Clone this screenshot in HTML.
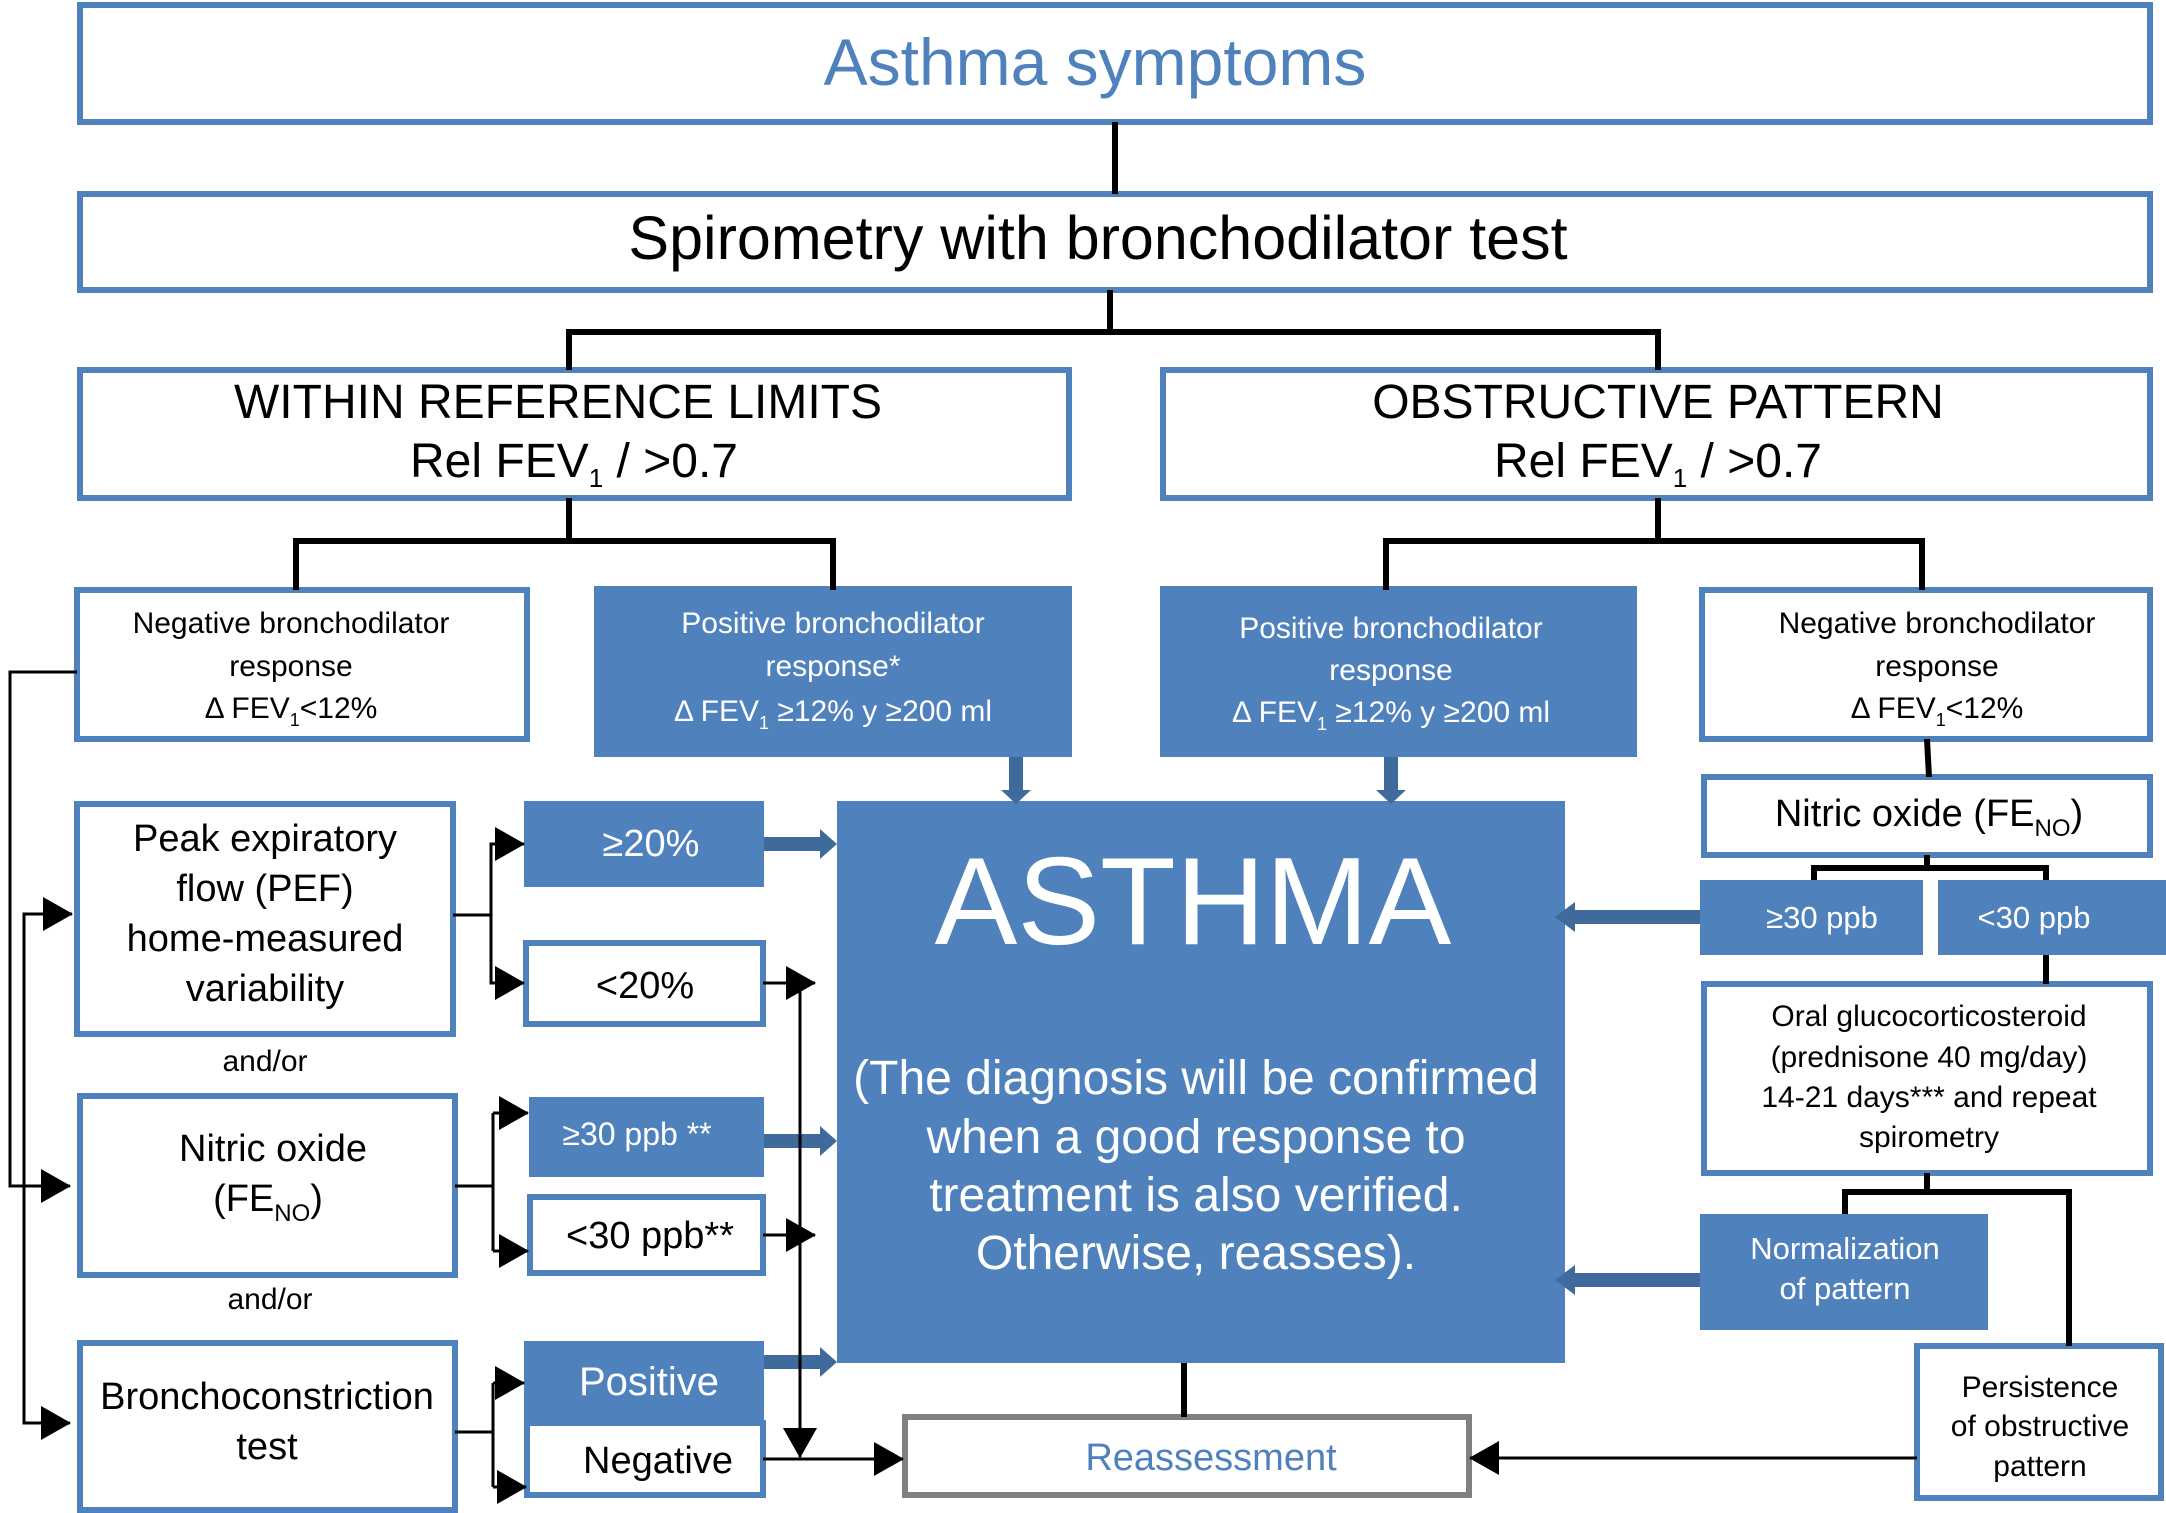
<!DOCTYPE html>
<html><head><meta charset="utf-8"><style>
html,body{margin:0;padding:0;background:#fff}
svg{display:block}
text{font-family:"Liberation Sans",Arial,sans-serif}
</style></head><body>
<svg width="2166" height="1513" viewBox="0 0 2166 1513" xmlns="http://www.w3.org/2000/svg">
<defs>
<marker id="ahb" markerWidth="30" markerHeight="34" refX="29" refY="17" orient="auto" markerUnits="userSpaceOnUse" viewBox="0 0 30 34">
<path d="M0,0 L30,17 L0,34 z" fill="#000"/></marker>
</defs>
<g fill="none" stroke="#4f81bd" stroke-width="6">
<rect x="80" y="5" width="2070" height="117"/>
<rect x="80" y="194" width="2070" height="96"/>
<rect x="80" y="370" width="989" height="128"/>
<rect x="1163" y="370" width="987" height="128"/>
<rect x="77" y="590" width="450" height="149"/>
<rect x="1702" y="590" width="448" height="149"/>
<rect x="1704" y="777" width="446" height="78"/>
<rect x="1704" y="984" width="446" height="189"/>
<rect x="1917" y="1346" width="244" height="152"/>
<rect x="77" y="804" width="376" height="230"/>
<rect x="80" y="1096" width="375" height="179"/>
<rect x="80" y="1343" width="375" height="167"/>
<rect x="526" y="943" width="237" height="81"/>
<rect x="530" y="1197" width="233" height="76"/>
<rect x="527" y="1423" width="236" height="72"/>
</g>
<rect x="905" y="1417" width="564" height="78" fill="none" stroke="#808080" stroke-width="6"/>
<g fill="#4f81bd">
<rect x="594" y="586" width="478" height="171"/>
<rect x="1160" y="586" width="477" height="171"/>
<rect x="837" y="801" width="728" height="562"/>
<rect x="1700" y="880" width="223" height="75"/>
<rect x="1938" y="880" width="228" height="75"/>
<rect x="1700" y="1214" width="288" height="116"/>
<rect x="524" y="801" width="240" height="86"/>
<rect x="529" y="1097" width="235" height="80"/>
<rect x="524" y="1341" width="240" height="82"/>
</g>
<g fill="#3f6a9c">
<polygon points="1009,757 1023,757 1023,790 1031,790 1016,804 1001,790 1009,790"/>
<polygon points="1384,757 1398,757 1398,790 1406,790 1391,804 1376,790 1384,790"/>
<polygon points="1700,910 1575,910 1575,902 1555,917 1575,932 1575,924 1700,924"/>
<polygon points="1700,1273 1575,1273 1575,1265 1555,1280 1575,1295 1575,1287 1700,1287"/>
<polygon points="764,837 820,837 820,829 837,844 820,859 820,851 764,851"/>
<polygon points="764,1134 820,1134 820,1126 837,1141 820,1156 820,1148 764,1148"/>
<polygon points="764,1355 820,1355 820,1347 837,1362 820,1377 820,1369 764,1369"/>
</g>
<g fill="none" stroke="#000" stroke-width="6">
<line x1="1115" y1="122" x2="1115" y2="194"/>
<polyline points="1110,290 1110,332 569,332 569,370"/>
<polyline points="1110,332 1658,332 1658,370"/>
<polyline points="569,498 569,541 296,541 296,590"/>
<polyline points="569,541 833,541 833,590"/>
<polyline points="1658,498 1658,541 1386,541 1386,590"/>
<polyline points="1658,541 1922,541 1922,590"/>
<line x1="1927" y1="739" x2="1929" y2="777"/>
<polyline points="1927,855 1927,868 1814,868 1814,880"/>
<polyline points="1927,868 2046,868 2046,880"/>
<line x1="2046" y1="955" x2="2046" y2="984"/>
<polyline points="1927,1173 1927,1192 1845,1192 1845,1214"/>
<polyline points="1927,1192 2069,1192 2069,1346"/>
<line x1="1184" y1="1363" x2="1184" y2="1417"/>
</g>
<g fill="none" stroke="#000" stroke-width="3">
<polyline points="77,672 10,672 10,1186 70,1186" marker-end="url(#ahb)"/>
<polyline points="70,914 24,914 24,1423 70,1423" marker-end="url(#ahb)"/>
<line x1="24" y1="914" x2="72" y2="914" marker-end="url(#ahb)"/>
<polyline points="453,915 491,915"/>
<polyline points="520,844 491,844 491,983 520,983"/>
<line x1="491" y1="844" x2="524" y2="844" marker-end="url(#ahb)"/>
<line x1="491" y1="983" x2="524" y2="983" marker-end="url(#ahb)"/>
<polyline points="455,1186 493,1186"/>
<polyline points="493,1113 493,1251"/>
<line x1="493" y1="1113" x2="528" y2="1113" marker-end="url(#ahb)"/>
<line x1="493" y1="1251" x2="528" y2="1251" marker-end="url(#ahb)"/>
<polyline points="455,1432 493,1432"/>
<polyline points="493,1383 493,1487"/>
<line x1="493" y1="1383" x2="524" y2="1383" marker-end="url(#ahb)"/>
<line x1="493" y1="1487" x2="526" y2="1487" marker-end="url(#ahb)"/>
<line x1="763" y1="983" x2="815" y2="983" marker-end="url(#ahb)"/>
<line x1="763" y1="1235" x2="815" y2="1235" marker-end="url(#ahb)"/>
<line x1="800" y1="976" x2="800" y2="1457" marker-end="url(#ahb)"/>
<line x1="763" y1="1459" x2="903" y2="1459" marker-end="url(#ahb)"/>
<line x1="1917" y1="1458" x2="1470" y2="1458" marker-end="url(#ahb)"/>
</g>
<g text-anchor="middle" font-size="30" fill="#000">
<text x="1095" y="85" font-size="66" fill="#4f81bd">Asthma symptoms</text>
<text x="1098" y="259" font-size="61">Spirometry with bronchodilator test</text>
<text x="558" y="418" font-size="48">WITHIN REFERENCE LIMITS</text>
<text x="574" y="477" font-size="48">Rel FEV<tspan font-size="26" dy="10">1</tspan><tspan dy="-10"> / &gt;0.7</tspan></text>
<text x="1658" y="418" font-size="48">OBSTRUCTIVE PATTERN</text>
<text x="1658" y="477" font-size="48">Rel FEV<tspan font-size="26" dy="10">1</tspan><tspan dy="-10"> / &gt;0.7</tspan></text>
<text x="291" y="633">Negative bronchodilator</text>
<text x="291" y="676">response</text>
<text x="291" y="718">Δ FEV<tspan font-size="18" dy="8">1</tspan><tspan dy="-8">&lt;12%</tspan></text>
<text x="1937" y="633">Negative bronchodilator</text>
<text x="1937" y="676">response</text>
<text x="1937" y="718">Δ FEV<tspan font-size="18" dy="8">1</tspan><tspan dy="-8">&lt;12%</tspan></text>
<g fill="#fff">
<text x="833" y="633">Positive bronchodilator</text>
<text x="833" y="676">response*</text>
<text x="833" y="721">Δ FEV<tspan font-size="18" dy="8">1</tspan><tspan dy="-8"> ≥12% y ≥200 ml</tspan></text>
<text x="1391" y="638">Positive bronchodilator</text>
<text x="1391" y="680">response</text>
<text x="1391" y="722">Δ FEV<tspan font-size="18" dy="8">1</tspan><tspan dy="-8"> ≥12% y ≥200 ml</tspan></text>
<text x="1193" y="944" font-size="124">ASTHMA</text>
<text x="1196" y="1094" font-size="48">(The diagnosis will be confirmed</text>
<text x="1196" y="1153" font-size="48">when a good response to</text>
<text x="1196" y="1211" font-size="48">treatment is also verified.</text>
<text x="1196" y="1269" font-size="48">Otherwise, reasses).</text>
<text x="1822" y="928" font-size="31">≥30 ppb</text>
<text x="2034" y="928" font-size="31">&lt;30 ppb</text>
<text x="1845" y="1259" font-size="31">Normalization</text>
<text x="1845" y="1299" font-size="31">of pattern</text>
<text x="651" y="856" font-size="38">≥20%</text>
<text x="637" y="1145" font-size="32">≥30 ppb **</text>
<text x="649" y="1395" font-size="40">Positive</text>
</g>
<text x="1929" y="826" font-size="38">Nitric oxide (FE<tspan font-size="24" dy="10">NO</tspan><tspan dy="-10">)</tspan></text>
<text x="1929" y="1026">Oral glucocorticosteroid</text>
<text x="1929" y="1067">(prednisone 40 mg/day)</text>
<text x="1929" y="1107">14-21 days*** and repeat</text>
<text x="1929" y="1147">spirometry</text>
<text x="2040" y="1397">Persistence</text>
<text x="2040" y="1436">of obstructive</text>
<text x="2040" y="1476">pattern</text>
<text x="1211" y="1470" font-size="38" fill="#4f81bd">Reassessment</text>
<text x="265" y="851" font-size="38">Peak expiratory</text>
<text x="265" y="901" font-size="38">flow (PEF)</text>
<text x="265" y="951" font-size="38">home-measured</text>
<text x="265" y="1001" font-size="38">variability</text>
<text x="265" y="1071">and/or</text>
<text x="270" y="1309">and/or</text>
<text x="273" y="1161" font-size="38">Nitric oxide</text>
<text x="268" y="1211" font-size="38">(FE<tspan font-size="24" dy="10">NO</tspan><tspan dy="-10">)</tspan></text>
<text x="267" y="1409" font-size="38">Bronchoconstriction</text>
<text x="267" y="1459" font-size="38">test</text>
<text x="645" y="998" font-size="38">&lt;20%</text>
<text x="650" y="1248" font-size="38">&lt;30 ppb**</text>
<text x="658" y="1473" font-size="38">Negative</text>
</g>
</svg>
</body></html>
